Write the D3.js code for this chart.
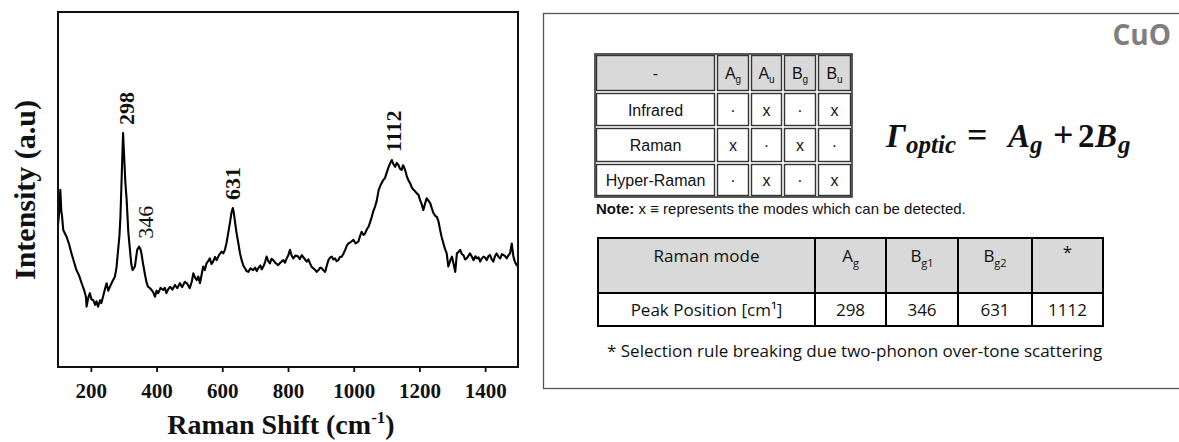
<!DOCTYPE html>
<html>
<head>
<meta charset="utf-8">
<script src="https://cdn.jsdelivr.net/npm/d3@7"></script>
<style>
  body { margin: 0; background: #fff; }
  svg { display: block; }
</style>
</head>
<body>
<svg id="fig" width="1179" height="442"></svg>
<script>
// ---- Raman spectrum of CuO (wavenumber in cm^-1, intensity in a.u.) ----
const ramanShift = [
  100,104,107,110,112,116,126,134,141,149,156,164,172,180,185,187,192,197,202,207,
  213,217,222,228,232,237,243,248,253,258,265,273,278,283,287,290,294,298,302,305,
  309,314,319,323,327,334,338,341,347,351,354,359,364,369,374,380,385,390,395,400,
  405,412,420,425,430,436,441,448,456,463,471,478,486,493,501,507,512,517,522,527,
  532,537,542,547,552,557,562,567,572,578,583,590,598,603,608,613,618,624,628,632,
  635,638,643,649,654,659,664,669,674,679,686,694,700,705,709,716,720,725,730,735,
  740,745,750,755,762,770,778,786,791,796,801,806,811,816,823,831,836,842,850,857,
  862,867,872,877,882,887,893,898,903,908,913,918,923,928,933,938,943,948,953,958,
  964,969,974,979,984,991,999,1006,1014,1019,1024,1030,1035,1040,1045,1050,1055,1060,1065,1070,
  1076,1083,1090,1095,1100,1105,1111,1116,1121,1126,1131,1136,1141,1146,1150,1153,1158,1162,1167,1172,
  1177,1182,1187,1192,1197,1202,1207,1212,1217,1222,1228,1233,1238,1243,1248,1253,1258,1263,1268,1273,
  1278,1283,1288,1294,1299,1304,1309,1314,1319,1324,1329,1334,1339,1344,1349,1354,1360,1365,1370,1375,
  1380,1385,1390,1395,1400,1405,1410,1415,1420,1425,1430,1435,1441,1446,1451,1456,1461,1466,1471,1476,
  1481,1486,1491,1496,1500
];
const intensity = [
  40.0,44.0,49.9,44.0,42.8,38.6,36.7,34.5,32.0,29.5,27.3,25.8,23.6,21.5,19.8,17.0,19.5,20.8,19.0,18.9,
  17.5,18.5,17.0,18.8,18.0,19.8,22.0,23.6,21.5,22.6,24.0,25.4,28.0,33.0,37.0,42.3,54.0,65.9,58.0,52.0,
  47.0,38.0,33.0,29.0,27.3,28.3,31.0,33.0,33.9,33.2,32.0,29.0,26.4,24.0,22.6,22.2,21.7,21.0,19.8,21.5,
  20.8,22.3,21.7,22.3,20.8,22.0,22.6,21.8,23.1,22.2,23.6,22.5,24.0,23.5,22.2,24.0,26.4,25.2,24.5,25.5,
  23.6,26.0,28.3,27.3,29.2,29.8,30.6,29.0,29.7,31.0,30.1,31.5,32.5,32.0,33.0,35.0,37.7,41.0,43.5,44.8,
  43.5,41.4,38.0,34.8,32.0,30.1,28.6,27.8,27.0,26.8,27.8,27.3,28.0,27.0,27.8,28.6,27.5,28.3,29.5,31.1,
  29.8,29.2,30.5,30.1,29.3,28.7,29.5,30.1,29.4,30.6,31.5,33.0,31.4,30.6,31.4,31.1,30.4,31.5,30.5,29.7,
  30.3,29.2,28.2,27.8,27.4,26.8,27.3,28.0,27.8,27.2,26.8,28.5,30.1,30.8,31.1,30.3,30.6,29.8,30.1,31.0,
  31.1,32.0,33.0,34.2,34.8,35.2,35.8,34.8,35.3,36.8,38.1,37.2,37.7,38.8,39.5,40.8,42.3,44.0,45.2,46.8,
  49.9,51.5,52.7,53.2,54.6,56.0,57.4,58.3,57.1,56.4,57.5,56.9,55.8,55.5,56.8,56.4,55.0,53.6,52.5,51.7,
  50.5,49.9,49.5,48.9,48.5,47.0,45.8,44.2,46.0,47.5,46.8,46.1,44.6,43.3,42.6,42.3,41.0,38.6,36.5,34.8,
  33.2,32.0,28.3,30.0,31.1,29.0,26.8,32.0,32.4,33.0,31.8,31.5,30.3,30.6,31.3,32.0,31.0,30.1,31.2,30.6,
  30.9,29.7,30.6,31.1,30.8,30.1,31.2,31.5,30.3,29.7,31.2,32.0,31.0,30.6,31.8,31.5,31.2,30.6,31.5,32.0,
  34.8,31.1,29.5,28.7,28.7
];
const xTicks = [200, 400, 600, 800, 1000, 1200, 1400];

// ---- assigned Raman peaks ----
const peakPositions = [298, 346, 631, 1112];
const peakModes = [["A", "g"], ["B", "g1"], ["B", "g2"], ["*", ""]];

// ---- selection rules for the C2h irreducible representations ----
const irreps = [["A", "g"], ["A", "u"], ["B", "g"], ["B", "u"]];
const activityNames = ["Infrared", "Raman", "Hyper-Raman"];
const activityMarks = [
  ["·", "x", "·", "x"],
  ["x", "·", "x", "·"],
  ["·", "x", "·", "x"]
];

const svg = d3.select("#fig");
const serif = "'Liberation Serif', 'Times New Roman', serif";
const arial = "'Liberation Sans', Arial, sans-serif";
const calibri = "'Open Sans', 'Noto Sans', sans-serif";

// ================= spectrum =================
const plot = { left: 58, right: 518, top: 12, bottom: 367 };
const x = d3.scaleLinear().domain([100, 1500]).range([plot.left, plot.right]);
const y = d3.scaleLinear().domain([0, 100]).range([plot.bottom, plot.top]);

const spectrum = ramanShift.map((w, i) => ({ w, v: intensity[i] }));

svg.append("path")
  .datum(spectrum)
  .attr("fill", "none")
  .attr("stroke", "#000")
  .attr("stroke-width", 2.1)
  .attr("stroke-linejoin", "round")
  .attr("d", d3.line().x(d => x(d.w)).y(d => y(d.v)));

// frame
svg.append("rect")
  .attr("x", plot.left).attr("y", plot.top)
  .attr("width", plot.right - plot.left).attr("height", plot.bottom - plot.top)
  .attr("fill", "none").attr("stroke", "#111").attr("stroke-width", 2);

// bottom axis
const xAxis = svg.append("g")
  .attr("transform", `translate(0,${plot.bottom})`)
  .call(d3.axisBottom(x).tickValues(xTicks).tickSize(5).tickPadding(11).tickFormat(d3.format("d")));
xAxis.select(".domain").remove();
xAxis.selectAll(".tick line").attr("stroke", "#111").attr("stroke-width", 1.8);
xAxis.selectAll(".tick text")
  .attr("fill", "#111")
  .style("font-family", serif).style("font-weight", "bold").style("font-size", "21px");

// axis titles
const xt = svg.append("text")
  .attr("x", 281).attr("y", 434)
  .attr("text-anchor", "middle")
  .style("font-family", serif).style("font-weight", "bold").style("font-size", "28px")
  .attr("fill", "#111");
xt.append("tspan").text("Raman Shift (cm");
xt.append("tspan").attr("dy", -11).style("font-size", "17px").text("-1");
xt.append("tspan").attr("dy", 11).text(")");

svg.append("text")
  .attr("transform", "translate(35,190) rotate(-90)")
  .attr("text-anchor", "middle")
  .style("font-family", serif).style("font-weight", "bold").style("font-size", "30px")
  .attr("fill", "#111")
  .text("Intensity (a.u)");

// peak labels, placed just above the local maximum of the spectrum
const labelNudge = { 298: 11, 346: 14, 631: 8, 1112: 10 };
peakPositions.forEach(p => {
  const near = spectrum.filter(d => Math.abs(d.w - p) <= 8);
  const top = d3.max(near, d => d.v);
  svg.append("text")
    .attr("transform", `translate(${x(p) + labelNudge[p]},${y(top) - 8}) rotate(-90)`)
    .attr("text-anchor", "start")
    .style("font-family", serif)
    .style("font-weight", p === 346 ? "normal" : "bold")
    .style("font-size", "22px")
    .attr("fill", "#111")
    .text(p);
});

// ================= mode panel =================
svg.append("rect")
  .attr("x", 543.5).attr("y", 13.5).attr("width", 660).attr("height", 375)
  .attr("fill", "none").attr("stroke", "#555").attr("stroke-width", 1.3);

svg.append("text")
  .attr("x", 1171).attr("y", 45).attr("text-anchor", "end")
  .style("font-family", calibri).style("font-weight", "bold").style("font-size", "28px")
  .attr("fill", "#7f7f7f").text("CuO");

// helper: a symbol with a subscript
function symbol(sel, base, sub, subSize, shift) {
  sel.append("tspan").text(base);
  if (sub) sel.append("tspan").attr("dy", shift).style("font-size", subSize + "px").text(sub);
}

// selection-rule table
const t1 = { x: 595, y: 54, colW: [121, 34, 33, 34, 35], rowH: [38, 35, 36, 34] };
const t1ColX = d3.cumsum([0, ...t1.colW]).map(v => t1.x + v);
const t1RowY = d3.cumsum([0, ...t1.rowH]).map(v => t1.y + v);
const t1Rows = [["-", ...irreps], ...activityNames.map((n, i) => [n, ...activityMarks[i]])];

t1Rows.forEach((row, r) => {
  row.forEach((cell, c) => {
    const x0 = t1ColX[c], x1 = t1ColX[c + 1], y0 = t1RowY[r], y1 = t1RowY[r + 1];
    svg.append("rect")
      .attr("x", x0 + 1.5).attr("y", y0 + 1.5)
      .attr("width", x1 - x0 - 3).attr("height", y1 - y0 - 3)
      .attr("fill", r === 0 ? "#d9d9d9" : "#fff")
      .attr("stroke", "#333").attr("stroke-width", 1.4);
    const t = svg.append("text")
      .attr("x", (x0 + x1) / 2).attr("y", (y0 + y1) / 2 + 6)
      .attr("text-anchor", "middle")
      .style("font-family", arial).style("font-size", "16px").attr("fill", "#111");
    if (Array.isArray(cell)) symbol(t, cell[0], cell[1], 10, 4);
    else t.text(cell);
  });
});
svg.append("rect")
  .attr("x", t1.x).attr("y", t1.y)
  .attr("width", t1ColX[5] - t1.x).attr("height", t1RowY[4] - t1.y)
  .attr("fill", "none").attr("stroke", "#333").attr("stroke-width", 1.6);

const note = svg.append("text")
  .attr("x", 596).attr("y", 214)
  .style("font-family", arial).style("font-size", "15px").attr("fill", "#111");
note.append("tspan").style("font-weight", "bold").text("Note:");
note.append("tspan").text(" x ≡ represents the modes which can be detected.");

// optical mode decomposition: Γ_optic = A_g + 2B_g
const f = svg.append("text")
  .style("font-family", serif).style("font-weight", "bold").style("font-size", "33px")
  .attr("fill", "#111");
const part = (txt, px, opts = {}) => {
  const s = f.append("tspan").attr("x", px).text(txt);
  if (opts.italic) s.style("font-style", "italic");
  if (opts.sub) s.style("font-size", "25px").attr("y", 153);
  else s.attr("y", 147);
  if (opts.op) s.style("font-size", "36px");
  return s;
};
part("Γ", 886, { italic: true });
part("optic", 906, { italic: true, sub: true });
part("=", 967, { op: true });
part("A", 1008, { italic: true });
part("g", 1030, { italic: true, sub: true });
part("+", 1053, { op: true });
part("2", 1078);
part("B", 1095, { italic: true });
part("g", 1118, { italic: true, sub: true });

// peak assignment table
const t2 = { x: 598, y: 238, colW: [217, 71, 72, 74, 71], rowH: [55, 33] };
const t2ColX = d3.cumsum([0, ...t2.colW]).map(v => t2.x + v);
const t2RowY = d3.cumsum([0, ...t2.rowH]).map(v => t2.y + v);

t2ColX.slice(0, -1).forEach((x0, c) => {
  const x1 = t2ColX[c + 1];
  // header
  svg.append("rect")
    .attr("x", x0).attr("y", t2RowY[0]).attr("width", x1 - x0).attr("height", t2.rowH[0])
    .attr("fill", "#d9d9d9").attr("stroke", "#000").attr("stroke-width", 2);
  const h = svg.append("text")
    .attr("x", (x0 + x1) / 2).attr("y", t2RowY[0] + 24)
    .attr("text-anchor", "middle")
    .style("font-family", calibri).style("font-size", "17px").attr("fill", "#111");
  if (c === 0) h.text("Raman mode");
  else if (peakModes[c - 1][0] === "*") h.attr("y", t2RowY[0] + 20).text("*");
  else symbol(h, peakModes[c - 1][0], peakModes[c - 1][1], 11, 5);
  // values
  svg.append("rect")
    .attr("x", x0).attr("y", t2RowY[1]).attr("width", x1 - x0).attr("height", t2.rowH[1])
    .attr("fill", "#fff").attr("stroke", "#000").attr("stroke-width", 2);
  const v = svg.append("text")
    .attr("x", (x0 + x1) / 2).attr("y", t2RowY[1] + 23)
    .attr("text-anchor", "middle")
    .style("font-family", calibri).style("font-size", "17px").attr("fill", "#111");
  if (c === 0) v.text("Peak Position [cm¹]");
  else v.text(peakPositions[c - 1]);
});

svg.append("text")
  .attr("x", 607).attr("y", 357)
  .style("font-family", calibri).style("font-size", "17px").attr("fill", "#111")
  .text("* Selection rule breaking due two-phonon over-tone scattering");
</script>
</body>
</html>
